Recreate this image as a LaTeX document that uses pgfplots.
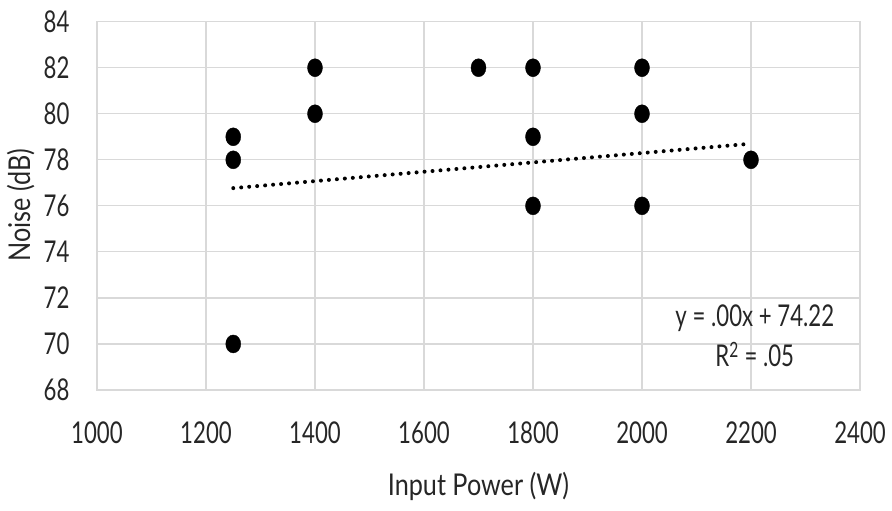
\documentclass[border=0pt]{standalone}
\usepackage{fontspec}
\setmainfont[FakeStretch=0.74]{Lato}
\newfontfamily\labelfont[FakeStretch=0.84]{Lato}
\usepackage{pgfplots}
\pgfplotsset{compat=1.18}
\definecolor{gridc}{HTML}{D9D9D9}
\definecolor{txt}{HTML}{262626}
\begin{document}
\begin{tikzpicture}
\path[use as bounding box] (0pt,0pt) rectangle (892pt,511pt);
\begin{axis}[
  at={(97pt,121pt)}, anchor=south west,
  scale only axis, width=763pt, height=368.3pt,
  xmin=1000, xmax=2400, ymin=68, ymax=84,
  xtick={1000,1200,...,2400}, ytick={68,70,...,84},
  grid=major, major grid style={gridc, line width=1.2pt},
  axis line style={gridc, line width=1.2pt},
  tick style={draw=none},
  /pgf/number format/assume math mode=true,
  /pgf/number format/1000 sep={},
  ticklabel style={font=\fontsize{30}{34}\selectfont, text=txt},
  xticklabel style={yshift=-28pt},
  yticklabel style={xshift=-24pt},
  xlabel={Input Power (W)}, ylabel={Noise (dB)},
  label style={font=\labelfont\fontsize{30}{34}\selectfont, text=txt},
  xlabel style={at={(axis description cs:0.5,-0.263)}, anchor=center},
  ylabel style={at={(axis description cs:-0.1,0.502)}, anchor=center},
  clip=false,
]
\addplot[only marks, mark=*, mark size=7.5pt, mark options={fill=black, draw=black, yscale=1.2}]
coordinates {
(1250,79) (1250,78) (1250,70)
(1400,82) (1400,80)
(1700,82)
(1800,82) (1800,79) (1800,76)
(2000,82) (2000,80) (2000,76)
(2200,78)
};
\addplot[black, line width=4pt, line cap=round, dash pattern=on 0pt off 8pt]
coordinates {(1250,76.77) (2200,78.70)};
\node[font=\fontsize{30}{40}\selectfont, text=txt, align=center] at (axis cs:2207,70.35) {y = .00x + 74.22\\R\textsuperscript{2} = .05};
\end{axis}
\end{tikzpicture}
\end{document}
